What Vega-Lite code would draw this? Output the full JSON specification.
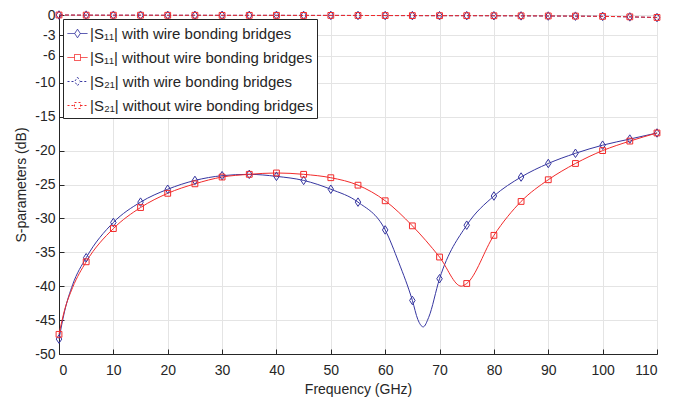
{
  "$schema": "https://vega.github.io/schema/vega-lite/v6.json",
  "width": 598,
  "height": 339,
  "autosize": "none",
  "padding": {"left": 59, "top": 15, "right": 39, "bottom": 46},
  "config": {
    "font": "Liberation Sans",
    "view": {"stroke": "#262626", "strokeWidth": 1},
    "axis": {
      "domainColor": "#262626", "tickColor": "#262626", "labelColor": "#262626", "titleColor": "#262626",
      "labelFont": "Liberation Sans", "titleFont": "Liberation Sans", "labelFontSize": 14, "titleFontSize": 14,
      "titleFontWeight": "normal", "gridColor": "#e4e4e4", "gridWidth": 1, "tickSize": -5
    },
    "legend": {
      "labelFont": "Liberation Sans", "labelFontSize": 15, "labelColor": "#262626",
      "fillColor": "white", "strokeColor": "#262626", "padding": 4, "rowPadding": 5,
      "symbolSize": 400, "labelOffset": 2, "symbolStrokeWidth": 1, "labelLimit": 400
    }
  },
  "datasets": {
    "markers": [
      {"f": 0, "v": -47.8, "series": "|S₁₁| with wire bonding bridges"},
      {"f": 5, "v": -35.8, "series": "|S₁₁| with wire bonding bridges"},
      {"f": 10, "v": -30.6, "series": "|S₁₁| with wire bonding bridges"},
      {"f": 15, "v": -27.6, "series": "|S₁₁| with wire bonding bridges"},
      {"f": 20, "v": -25.7, "series": "|S₁₁| with wire bonding bridges"},
      {"f": 25, "v": -24.4, "series": "|S₁₁| with wire bonding bridges"},
      {"f": 30, "v": -23.7, "series": "|S₁₁| with wire bonding bridges"},
      {"f": 35, "v": -23.5, "series": "|S₁₁| with wire bonding bridges"},
      {"f": 40, "v": -23.8, "series": "|S₁₁| with wire bonding bridges"},
      {"f": 45, "v": -24.4, "series": "|S₁₁| with wire bonding bridges"},
      {"f": 50, "v": -25.7, "series": "|S₁₁| with wire bonding bridges"},
      {"f": 55, "v": -27.6, "series": "|S₁₁| with wire bonding bridges"},
      {"f": 60, "v": -31.7, "series": "|S₁₁| with wire bonding bridges"},
      {"f": 65, "v": -42.1, "series": "|S₁₁| with wire bonding bridges"},
      {"f": 70, "v": -38.9, "series": "|S₁₁| with wire bonding bridges"},
      {"f": 75, "v": -31.0, "series": "|S₁₁| with wire bonding bridges"},
      {"f": 80, "v": -26.7, "series": "|S₁₁| with wire bonding bridges"},
      {"f": 85, "v": -23.9, "series": "|S₁₁| with wire bonding bridges"},
      {"f": 90, "v": -21.9, "series": "|S₁₁| with wire bonding bridges"},
      {"f": 95, "v": -20.4, "series": "|S₁₁| with wire bonding bridges"},
      {"f": 100, "v": -19.2, "series": "|S₁₁| with wire bonding bridges"},
      {"f": 105, "v": -18.3, "series": "|S₁₁| with wire bonding bridges"},
      {"f": 110, "v": -17.4, "series": "|S₁₁| with wire bonding bridges"},
      {"f": 0, "v": -47.1, "series": "|S₁₁| without wire bonding bridges"},
      {"f": 5, "v": -36.4, "series": "|S₁₁| without wire bonding bridges"},
      {"f": 10, "v": -31.5, "series": "|S₁₁| without wire bonding bridges"},
      {"f": 15, "v": -28.4, "series": "|S₁₁| without wire bonding bridges"},
      {"f": 20, "v": -26.3, "series": "|S₁₁| without wire bonding bridges"},
      {"f": 25, "v": -24.9, "series": "|S₁₁| without wire bonding bridges"},
      {"f": 30, "v": -23.9, "series": "|S₁₁| without wire bonding bridges"},
      {"f": 35, "v": -23.5, "series": "|S₁₁| without wire bonding bridges"},
      {"f": 40, "v": -23.3, "series": "|S₁₁| without wire bonding bridges"},
      {"f": 45, "v": -23.5, "series": "|S₁₁| without wire bonding bridges"},
      {"f": 50, "v": -24.0, "series": "|S₁₁| without wire bonding bridges"},
      {"f": 55, "v": -25.1, "series": "|S₁₁| without wire bonding bridges"},
      {"f": 60, "v": -27.4, "series": "|S₁₁| without wire bonding bridges"},
      {"f": 65, "v": -31.1, "series": "|S₁₁| without wire bonding bridges"},
      {"f": 70, "v": -35.7, "series": "|S₁₁| without wire bonding bridges"},
      {"f": 75, "v": -39.6, "series": "|S₁₁| without wire bonding bridges"},
      {"f": 80, "v": -32.5, "series": "|S₁₁| without wire bonding bridges"},
      {"f": 85, "v": -27.5, "series": "|S₁₁| without wire bonding bridges"},
      {"f": 90, "v": -24.3, "series": "|S₁₁| without wire bonding bridges"},
      {"f": 95, "v": -21.9, "series": "|S₁₁| without wire bonding bridges"},
      {"f": 100, "v": -20.0, "series": "|S₁₁| without wire bonding bridges"},
      {"f": 105, "v": -18.6, "series": "|S₁₁| without wire bonding bridges"},
      {"f": 110, "v": -17.4, "series": "|S₁₁| without wire bonding bridges"},
      {"f": 0, "v": 0, "series": "|S₂₁| with wire bonding bridges"},
      {"f": 5, "v": -0.02, "series": "|S₂₁| with wire bonding bridges"},
      {"f": 10, "v": -0.03, "series": "|S₂₁| with wire bonding bridges"},
      {"f": 15, "v": -0.03, "series": "|S₂₁| with wire bonding bridges"},
      {"f": 20, "v": -0.04, "series": "|S₂₁| with wire bonding bridges"},
      {"f": 25, "v": -0.04, "series": "|S₂₁| with wire bonding bridges"},
      {"f": 30, "v": -0.05, "series": "|S₂₁| with wire bonding bridges"},
      {"f": 35, "v": -0.05, "series": "|S₂₁| with wire bonding bridges"},
      {"f": 40, "v": -0.05, "series": "|S₂₁| with wire bonding bridges"},
      {"f": 45, "v": -0.06, "series": "|S₂₁| with wire bonding bridges"},
      {"f": 50, "v": -0.06, "series": "|S₂₁| with wire bonding bridges"},
      {"f": 55, "v": -0.07, "series": "|S₂₁| with wire bonding bridges"},
      {"f": 60, "v": -0.08, "series": "|S₂₁| with wire bonding bridges"},
      {"f": 65, "v": -0.09, "series": "|S₂₁| with wire bonding bridges"},
      {"f": 70, "v": -0.1, "series": "|S₂₁| with wire bonding bridges"},
      {"f": 75, "v": -0.1, "series": "|S₂₁| with wire bonding bridges"},
      {"f": 80, "v": -0.11, "series": "|S₂₁| with wire bonding bridges"},
      {"f": 85, "v": -0.13, "series": "|S₂₁| with wire bonding bridges"},
      {"f": 90, "v": -0.15, "series": "|S₂₁| with wire bonding bridges"},
      {"f": 95, "v": -0.17, "series": "|S₂₁| with wire bonding bridges"},
      {"f": 100, "v": -0.2, "series": "|S₂₁| with wire bonding bridges"},
      {"f": 105, "v": -0.28, "series": "|S₂₁| with wire bonding bridges"},
      {"f": 110, "v": -0.38, "series": "|S₂₁| with wire bonding bridges"},
      {"f": 0, "v": 0, "series": "|S₂₁| without wire bonding bridges"},
      {"f": 5, "v": -0.02, "series": "|S₂₁| without wire bonding bridges"},
      {"f": 10, "v": -0.03, "series": "|S₂₁| without wire bonding bridges"},
      {"f": 15, "v": -0.03, "series": "|S₂₁| without wire bonding bridges"},
      {"f": 20, "v": -0.04, "series": "|S₂₁| without wire bonding bridges"},
      {"f": 25, "v": -0.04, "series": "|S₂₁| without wire bonding bridges"},
      {"f": 30, "v": -0.05, "series": "|S₂₁| without wire bonding bridges"},
      {"f": 35, "v": -0.05, "series": "|S₂₁| without wire bonding bridges"},
      {"f": 40, "v": -0.05, "series": "|S₂₁| without wire bonding bridges"},
      {"f": 45, "v": -0.06, "series": "|S₂₁| without wire bonding bridges"},
      {"f": 50, "v": -0.06, "series": "|S₂₁| without wire bonding bridges"},
      {"f": 55, "v": -0.07, "series": "|S₂₁| without wire bonding bridges"},
      {"f": 60, "v": -0.08, "series": "|S₂₁| without wire bonding bridges"},
      {"f": 65, "v": -0.09, "series": "|S₂₁| without wire bonding bridges"},
      {"f": 70, "v": -0.1, "series": "|S₂₁| without wire bonding bridges"},
      {"f": 75, "v": -0.1, "series": "|S₂₁| without wire bonding bridges"},
      {"f": 80, "v": -0.11, "series": "|S₂₁| without wire bonding bridges"},
      {"f": 85, "v": -0.12, "series": "|S₂₁| without wire bonding bridges"},
      {"f": 90, "v": -0.14, "series": "|S₂₁| without wire bonding bridges"},
      {"f": 95, "v": -0.16, "series": "|S₂₁| without wire bonding bridges"},
      {"f": 100, "v": -0.2, "series": "|S₂₁| without wire bonding bridges"},
      {"f": 105, "v": -0.27, "series": "|S₂₁| without wire bonding bridges"},
      {"f": 110, "v": -0.36, "series": "|S₂₁| without wire bonding bridges"}
    ],
    "curves": [
      {"f": 0, "v": -47.8, "series": "|S₁₁| with wire bonding bridges"},
      {"f": 1, "v": -43.8, "series": "|S₁₁| with wire bonding bridges"},
      {"f": 2.5, "v": -39.8, "series": "|S₁₁| with wire bonding bridges"},
      {"f": 5, "v": -35.8, "series": "|S₁₁| with wire bonding bridges"},
      {"f": 10, "v": -30.6, "series": "|S₁₁| with wire bonding bridges"},
      {"f": 15, "v": -27.6, "series": "|S₁₁| with wire bonding bridges"},
      {"f": 20, "v": -25.7, "series": "|S₁₁| with wire bonding bridges"},
      {"f": 25, "v": -24.4, "series": "|S₁₁| with wire bonding bridges"},
      {"f": 30, "v": -23.7, "series": "|S₁₁| with wire bonding bridges"},
      {"f": 35, "v": -23.5, "series": "|S₁₁| with wire bonding bridges"},
      {"f": 40, "v": -23.8, "series": "|S₁₁| with wire bonding bridges"},
      {"f": 45, "v": -24.4, "series": "|S₁₁| with wire bonding bridges"},
      {"f": 50, "v": -25.7, "series": "|S₁₁| with wire bonding bridges"},
      {"f": 55, "v": -27.6, "series": "|S₁₁| with wire bonding bridges"},
      {"f": 60, "v": -31.7, "series": "|S₁₁| with wire bonding bridges"},
      {"f": 62.5, "v": -36.5, "series": "|S₁₁| with wire bonding bridges"},
      {"f": 65, "v": -42.1, "series": "|S₁₁| with wire bonding bridges"},
      {"f": 66, "v": -44.9, "series": "|S₁₁| with wire bonding bridges"},
      {"f": 67, "v": -46.0, "series": "|S₁₁| with wire bonding bridges"},
      {"f": 68, "v": -44.6, "series": "|S₁₁| with wire bonding bridges"},
      {"f": 70, "v": -38.9, "series": "|S₁₁| with wire bonding bridges"},
      {"f": 75, "v": -31.0, "series": "|S₁₁| with wire bonding bridges"},
      {"f": 80, "v": -26.7, "series": "|S₁₁| with wire bonding bridges"},
      {"f": 85, "v": -23.9, "series": "|S₁₁| with wire bonding bridges"},
      {"f": 90, "v": -21.9, "series": "|S₁₁| with wire bonding bridges"},
      {"f": 95, "v": -20.4, "series": "|S₁₁| with wire bonding bridges"},
      {"f": 100, "v": -19.2, "series": "|S₁₁| with wire bonding bridges"},
      {"f": 105, "v": -18.3, "series": "|S₁₁| with wire bonding bridges"},
      {"f": 110, "v": -17.4, "series": "|S₁₁| with wire bonding bridges"},
      {"f": 0, "v": -47.1, "series": "|S₁₁| without wire bonding bridges"},
      {"f": 1, "v": -43.6, "series": "|S₁₁| without wire bonding bridges"},
      {"f": 2.5, "v": -40.2, "series": "|S₁₁| without wire bonding bridges"},
      {"f": 5, "v": -36.4, "series": "|S₁₁| without wire bonding bridges"},
      {"f": 10, "v": -31.5, "series": "|S₁₁| without wire bonding bridges"},
      {"f": 15, "v": -28.4, "series": "|S₁₁| without wire bonding bridges"},
      {"f": 20, "v": -26.3, "series": "|S₁₁| without wire bonding bridges"},
      {"f": 25, "v": -24.9, "series": "|S₁₁| without wire bonding bridges"},
      {"f": 30, "v": -23.9, "series": "|S₁₁| without wire bonding bridges"},
      {"f": 35, "v": -23.5, "series": "|S₁₁| without wire bonding bridges"},
      {"f": 40, "v": -23.3, "series": "|S₁₁| without wire bonding bridges"},
      {"f": 45, "v": -23.5, "series": "|S₁₁| without wire bonding bridges"},
      {"f": 50, "v": -24.0, "series": "|S₁₁| without wire bonding bridges"},
      {"f": 55, "v": -25.1, "series": "|S₁₁| without wire bonding bridges"},
      {"f": 60, "v": -27.4, "series": "|S₁₁| without wire bonding bridges"},
      {"f": 65, "v": -31.1, "series": "|S₁₁| without wire bonding bridges"},
      {"f": 70, "v": -35.7, "series": "|S₁₁| without wire bonding bridges"},
      {"f": 74, "v": -40.0, "series": "|S₁₁| without wire bonding bridges"},
      {"f": 75, "v": -39.6, "series": "|S₁₁| without wire bonding bridges"},
      {"f": 80, "v": -32.5, "series": "|S₁₁| without wire bonding bridges"},
      {"f": 85, "v": -27.5, "series": "|S₁₁| without wire bonding bridges"},
      {"f": 90, "v": -24.3, "series": "|S₁₁| without wire bonding bridges"},
      {"f": 95, "v": -21.9, "series": "|S₁₁| without wire bonding bridges"},
      {"f": 100, "v": -20.0, "series": "|S₁₁| without wire bonding bridges"},
      {"f": 105, "v": -18.6, "series": "|S₁₁| without wire bonding bridges"},
      {"f": 110, "v": -17.4, "series": "|S₁₁| without wire bonding bridges"}
    ]
  },
  "encoding": {
    "x": {"field": "f", "type": "quantitative", "title": "Frequency (GHz)",
      "scale": {"domain": [0, 110], "nice": false},
      "axis": {"values": [0, 10, 20, 30, 40, 50, 60, 70, 80, 90, 100, 110], "labelPadding": 14, "titlePadding": 5}},
    "y": {"field": "v", "type": "quantitative", "title": "S-parameters (dB)",
      "scale": {"domain": [-50, 0], "nice": false},
      "axis": {"values": [0, -3, -6, -10, -15, -20, -25, -30, -35, -40, -45, -50], "labelPadding": 9, "titlePadding": 6,
        "labelExpr": "'' + datum.value"}},
    "color": {"field": "series", "type": "nominal", "title": null,
      "scale": {"domain": ["|S₁₁| with wire bonding bridges", "|S₁₁| without wire bonding bridges", "|S₂₁| with wire bonding bridges", "|S₂₁| without wire bonding bridges"],
                "range": ["#3636a0", "#f22b2b", "#3636a0", "#f22b2b"]},
      "legend": {"orient": "none", "legendX": 4, "legendY": 4, "title": null}}
  },
  "layer": [
    {
      "data": {"name": "curves"},
      "mark": {"type": "line", "interpolate": "monotone", "strokeWidth": 1}
    },
    {
      "data": {"name": "markers"},
      "transform": [{"filter": "indexof(datum.series, '₂₁') >= 0"}],
      "mark": {"type": "line", "interpolate": "monotone", "strokeWidth": 1, "strokeDash": [4, 2]}
    },
    {
      "data": {"name": "markers"},
      "transform": [{"filter": "indexof(datum.series, 'without') < 0"}],
      "mark": {"type": "point", "filled": false, "strokeWidth": 1, "size": 100, "opacity": 1, "shape": "M0,-0.85L0.55,0L0,0.85L-0.55,0Z"}
    },
    {
      "data": {"name": "markers"},
      "transform": [{"filter": "indexof(datum.series, 'without') >= 0"}],
      "mark": {"type": "point", "filled": false, "strokeWidth": 1, "size": 100, "opacity": 1, "shape": "M-0.58,-0.58L0.58,-0.58L0.58,0.58L-0.58,0.58Z"}
    },
    {
      "data": {"name": "markers"},
      "transform": [{"filter": "false"}],
      "mark": {"type": "point", "filled": false, "strokeWidth": 1, "opacity": 1},
      "encoding": {
        "shape": {"field": "series", "type": "nominal", "title": null,
          "scale": {"domain": ["|S₁₁| with wire bonding bridges", "|S₁₁| without wire bonding bridges", "|S₂₁| with wire bonding bridges", "|S₂₁| without wire bonding bridges"],
            "range": ["M-1,0L-0.28,0M0.28,0L1,0M0,-0.43L0.28,0L0,0.43L-0.28,0Z", "M-1,0L-0.3,0M0.3,0L1,0M-0.3,-0.3L0.3,-0.3L0.3,0.3L-0.3,0.3Z", "M-1,0L-0.28,0M0.28,0L1,0M0,-0.43L0.28,0L0,0.43L-0.28,0Z", "M-1,0L-0.3,0M0.3,0L1,0M-0.3,-0.3L0.3,-0.3L0.3,0.3L-0.3,0.3Z"]},
          "legend": {"orient": "none", "legendX": 4, "legendY": 4, "title": null}},
        "strokeDash": {"field": "series", "type": "nominal", "title": null,
          "scale": {"domain": ["|S₁₁| with wire bonding bridges", "|S₁₁| without wire bonding bridges", "|S₂₁| with wire bonding bridges", "|S₂₁| without wire bonding bridges"],
            "range": [[1, 0], [1, 0], [2, 2], [2, 2]]},
          "legend": {"orient": "none", "legendX": 4, "legendY": 4, "title": null}}
      }
    }
  ]
}
